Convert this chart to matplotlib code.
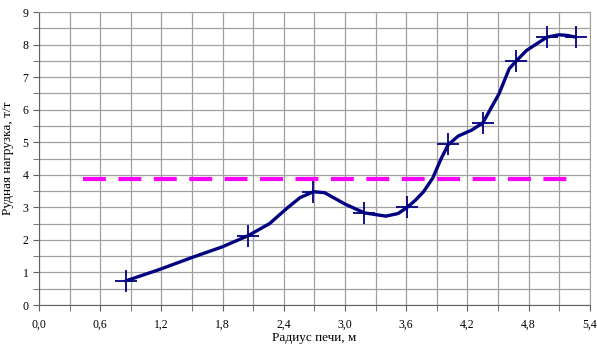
import matplotlib
matplotlib.use("Agg")
import matplotlib.pyplot as plt
from matplotlib.ticker import MultipleLocator, FuncFormatter

plt.rcParams['font.family'] = ['Liberation Serif', 'DejaVu Serif']

# точки кривой
curve_x = [0.85, 1.18, 1.50, 1.80, 2.05, 2.26, 2.43, 2.56, 2.69, 2.80, 3.00, 3.19,
           3.40, 3.52, 3.61, 3.69, 3.77, 3.86, 3.94, 4.01, 4.11, 4.24, 4.35, 4.51,
           4.61, 4.68, 4.78, 4.98, 5.10, 5.18, 5.26]
curve_y = [0.74, 1.09, 1.46, 1.79, 2.13, 2.50, 2.97, 3.30, 3.48, 3.45, 3.10, 2.83,
           2.73, 2.81, 3.00, 3.22, 3.48, 3.90, 4.48, 4.92, 5.19, 5.37, 5.59, 6.49,
           7.26, 7.50, 7.82, 8.23, 8.30, 8.28, 8.23]

# точки с маркерами
marker_x = [0.85, 2.05, 2.69, 3.19, 3.61, 4.01, 4.35, 4.68, 4.98, 5.26]
marker_y = [0.74, 2.13, 3.48, 2.83, 3.00, 4.94, 5.59, 7.50, 8.23, 8.23]

# средняя рудная нагрузка
avg_x = [0.43, 5.20]
avg_y = [3.87, 3.87]

fig = plt.figure(figsize=(5.97, 3.47), dpi=100)
ax = fig.add_axes([0.0653, 0.121, 0.9227, 0.8444])

ax.plot(avg_x, avg_y, color='#ff00ff', lw=3.0, dashes=(5.5, 3), zorder=3)
ax.plot(curve_x, curve_y, color='#000080', lw=2.4, solid_capstyle='round',
        solid_joinstyle='round', zorder=4)
ax.plot(marker_x, marker_y, ls='none', marker='+', ms=16, mew=1.3, color='#000080', zorder=5)

ax.set_xlim(0, 5.4)
ax.set_ylim(0, 9)
ax.xaxis.set_major_locator(MultipleLocator(0.6))
ax.xaxis.set_minor_locator(MultipleLocator(0.3))
ax.yaxis.set_major_locator(MultipleLocator(1))
ax.yaxis.set_minor_locator(MultipleLocator(0.5))
ax.xaxis.set_major_formatter(FuncFormatter(lambda v, p: f"{v:.1f}".replace('.', ',')))

ax.grid(which='both', color='#a0a0a0', lw=0.9)
ax.set_axisbelow(True)
for s in ['top', 'right']:
    ax.spines[s].set_color('#a0a0a0')
for s in ['left', 'bottom']:
    ax.spines[s].set_color('#606060')
ax.tick_params(which='both', direction='out', length=4, color='#606060', labelsize=8.5)
ax.tick_params(axis='x', which='major', pad=6)

ax.set_xlabel('Радиус печи, м', fontsize=9.5, labelpad=1)
ax.set_ylabel('Рудная нагрузка, т/т', fontsize=9.5, labelpad=6)

fig.savefig('out.png', dpi=100)
